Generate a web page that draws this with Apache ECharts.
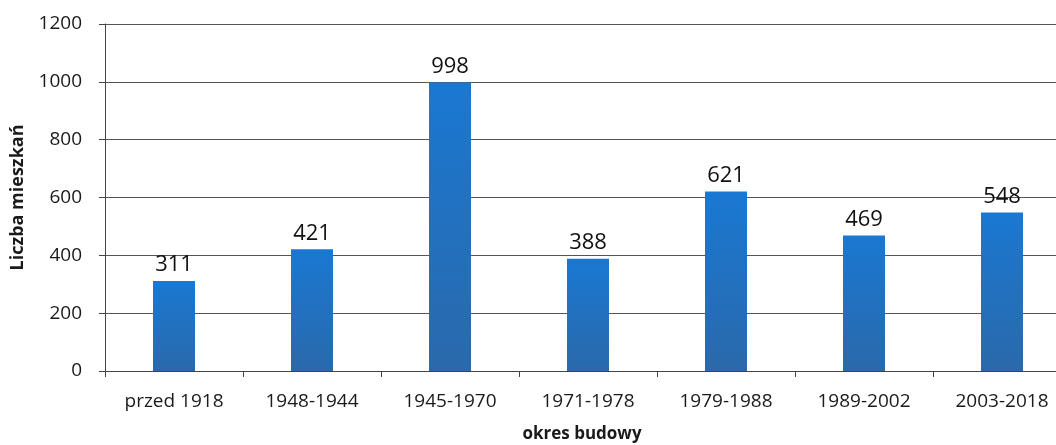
<!DOCTYPE html>
<html>
<head>
<meta charset="utf-8">
<script src="https://cdn.jsdelivr.net/npm/echarts@6/dist/echarts.min.js"></script>
<style>
  html, body { margin: 0; padding: 0; background: #fff; }
  #chart { width: 1056px; height: 445px; }
</style>
</head>
<body>
<div id="chart"></div>
<script>
// Dwellings by construction period
const categories = ['przed 1918', '1948-1944', '1945-1970', '1971-1978', '1979-1988', '1989-2002', '2003-2018'];
const dwellings = [311, 421, 998, 388, 621, 469, 548];
const yTicks = { min: 0, max: 1200, interval: 200 };

const FONT = 'Open Sans';
const chart = echarts.init(document.getElementById('chart'));

chart.setOption({
  animation: false,
  backgroundColor: '#ffffff',
  grid: {
    left: 105, top: 24, width: 966, height: 347,
    containLabel: false,
    outerBoundsMode: 'none'
  },
  xAxis: {
    type: 'category',
    data: categories,
    name: 'okres budowy',
    nameLocation: 'middle',
    nameGap: 55,
    nameTextStyle: {
      fontFamily: FONT, fontSize: 17, fontWeight: 'bold', color: '#1a1a1a',
      padding: [0, 12, 0, 0]
    },
    axisLine: { lineStyle: { color: '#444', width: 1 } },
    axisTick: { show: true, length: 6, lineStyle: { color: '#444' } },
    axisLabel: { fontFamily: FONT, fontSize: 19, color: '#1a1a1a', margin: 21 }
  },
  yAxis: {
    type: 'value',
    min: yTicks.min,
    max: yTicks.max,
    interval: yTicks.interval,
    name: 'Liczba mieszkań',
    nameLocation: 'middle',
    nameGap: 78,
    nameRotate: 90,
    nameTextStyle: { fontFamily: FONT, fontSize: 18, fontWeight: 'bold', color: '#1a1a1a' },
    axisLine: { show: true, lineStyle: { color: '#444', width: 1 } },
    axisTick: { show: true, length: 6, lineStyle: { color: '#444' } },
    axisLabel: {
      fontFamily: FONT, fontSize: 19, color: '#1a1a1a', margin: 23,
      formatter: (v) => String(v)
    },
    splitLine: { lineStyle: { color: '#555', width: 1 } }
  },
  series: [{
    type: 'bar',
    data: dwellings,
    barWidth: 42,
    itemStyle: {
      color: new echarts.graphic.LinearGradient(0, 0, 0, 1, [
        { offset: 0, color: '#1a78d2' },
        { offset: 1, color: '#2a69ab' }
      ])
    },
    label: {
      show: true,
      position: 'top',
      distance: 5,
      fontFamily: FONT,
      fontSize: 22,
      color: '#111'
    }
  }]
});
</script>
</body>
</html>
